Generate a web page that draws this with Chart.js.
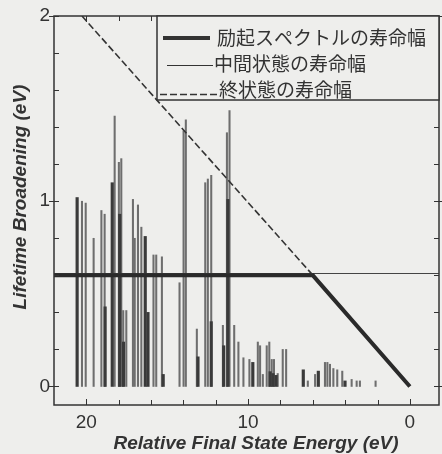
<!DOCTYPE html>
<html>
<head>
<meta charset="utf-8">
<script src="https://cdn.jsdelivr.net/npm/chart.js@4.4.1/dist/chart.umd.min.js"></script>
<style>
  html, body { margin: 0; padding: 0; background: #eeeeec; }
  #wrap { width: 442px; height: 454px; position: relative; }
</style>
</head>
<body>
<div id="wrap"><canvas id="c"></canvas></div>
<script>
// Final-state lines: energy (eV) and lifetime width (eV)
const thinEnergy = [20.27, 20.04, 19.55, 19.07, 18.87, 18.25, 17.99, 17.84, 17.72, 17.53,
  17.12, 17.01, 16.81, 16.60, 15.85, 15.68, 15.33, 14.24, 13.99, 13.85,
  13.17, 12.65, 12.49, 12.28, 11.56, 11.31, 11.15, 10.86, 10.60, 10.29,
  9.92, 9.40, 9.26, 9.09, 8.85, 8.69, 8.54, 8.40, 8.17, 7.86,
  7.65, 6.31, 5.86, 5.25, 5.10, 4.94, 4.73, 4.49, 4.18, 3.60,
  3.29, 3.09, 2.12];
const thinWidth = [1.00, 0.99, 0.80, 0.95, 0.93, 1.46, 1.21, 1.23, 0.41, 0.41,
  1.01, 0.80, 0.98, 0.86, 0.71, 0.71, 0.70, 0.56, 1.38, 1.44,
  0.31, 1.10, 1.12, 1.14, 0.33, 1.37, 1.49, 0.33, 0.24, 0.155,
  0.146, 0.24, 0.22, 0.065, 0.22, 0.24, 0.146, 0.146, 0.07, 0.20,
  0.20, 0.03, 0.065, 0.13, 0.13, 0.12, 0.097, 0.09, 0.083, 0.038,
  0.03, 0.03, 0.03];
const darkEnergy = [20.57, 18.84, 18.40, 17.94, 17.70, 16.36, 16.19, 15.25, 13.10, 12.28,
  11.51, 11.25, 9.71, 8.64, 8.46, 8.27, 6.59, 5.66, 4.01];
const darkWidth = [1.02, 0.43, 1.10, 0.93, 0.24, 0.81, 0.40, 0.065, 0.16, 0.35,
  0.22, 1.01, 0.13, 0.08, 0.07, 0.06, 0.09, 0.083, 0.03];

// Lifetime curves
const excitationE = [22, 6, 0];
const excitationW = [0.6, 0.6, 0];
const intermediateE = [22, -1.8];
const intermediateW = [0.61, 0.61];
const finalE = [20.27, 5.99];
const finalW = [2.0, 0.6];

const xTickLabels = [20, 10, 0];
const yTickLabels = [0, 1, 2];
const legendLabels = ['励起スペクトルの寿命幅', '中間状態の寿命幅', '終状態の寿命幅'];
const xTitle = 'Relative Final State Energy (eV)';
const yTitle = 'Lifetime Broadening (eV)';

const pts = (xs, ys) => xs.map((x, i) => ({ x, y: ys[i] }));

const INK = '#333333';
const BG = '#eeeeec';
const TITLE_FONT = 'italic bold 19px "Liberation Sans", Arial, sans-serif';

const framePlugin = {
  id: 'frame',
  afterDraw(chart) {
    const { ctx, chartArea: a, scales: { x, y } } = chart;
    ctx.save();
    ctx.strokeStyle = INK;
    ctx.lineWidth = 1.5;
    ctx.strokeRect(a.left, a.top, a.right - a.left, a.bottom - a.top);
    ctx.lineWidth = 1;
    // inward ticks on x (bottom and top)
    for (let v = 0; v <= 20; v += 2) {
      const px = Math.round(x.getPixelForValue(v)) + 0.5;
      const len = v % 10 === 0 ? 6 : 5;
      ctx.beginPath();
      ctx.moveTo(px, a.bottom); ctx.lineTo(px, a.bottom - len);
      ctx.moveTo(px, a.top); ctx.lineTo(px, a.top + len);
      ctx.stroke();
    }
    // inward ticks on y (left and right), majors cross the frame
    for (let k = 0; k <= 10; k++) {
      const v = k * 0.2;
      const py = Math.round(y.getPixelForValue(v)) + 0.5;
      const major = k % 5 === 0;
      ctx.beginPath();
      ctx.moveTo(a.left - (major ? 5 : 0), py); ctx.lineTo(a.left + 5, py);
      ctx.moveTo(a.right - 5, py); ctx.lineTo(a.right + (major ? 3 : 0), py);
      ctx.stroke();
    }
    // axis titles
    ctx.fillStyle = INK;
    ctx.font = TITLE_FONT;
    ctx.textAlign = 'center';
    ctx.textBaseline = 'middle';
    ctx.fillText(xTitle, 256, 444);
    ctx.save();
    ctx.translate(21, 197);
    ctx.rotate(-Math.PI / 2);
    ctx.fillText(yTitle, 0, 0);
    ctx.restore();
    // legend box in the upper right corner
    const bx = 157, by = a.top, bw = a.right - 157, bh = 100 - a.top;
    ctx.fillStyle = BG;
    ctx.fillRect(bx, by, bw, bh);
    ctx.lineWidth = 1.5;
    ctx.strokeRect(bx, by, bw, bh);
    ctx.font = '19px "Noto Sans CJK JP", sans-serif';
    ctx.fillStyle = INK;
    ctx.textBaseline = 'middle';
    ctx.textAlign = 'left';
    // entry 1: thick line
    ctx.lineWidth = 4;
    ctx.beginPath(); ctx.moveTo(163, 38); ctx.lineTo(210, 38); ctx.stroke();
    ctx.fillText(legendLabels[0], 217, 38);
    // entry 2: thin line
    ctx.lineWidth = 1.2;
    ctx.beginPath(); ctx.moveTo(167, 65.5); ctx.lineTo(213, 65.5); ctx.stroke();
    ctx.fillText(legendLabels[1], 214, 64);
    // entry 3: dashed line
    ctx.lineWidth = 1.5;
    ctx.setLineDash([7, 3]);
    ctx.beginPath(); ctx.moveTo(160, 94.5); ctx.lineTo(217, 94.5); ctx.stroke();
    ctx.setLineDash([]);
    ctx.fillText(legendLabels[2], 219, 90);
    ctx.restore();
  }
};

new Chart(document.getElementById('c'), {
  type: 'bar',
  data: {
    datasets: [
      {
        type: 'line', label: legendLabels[0], data: pts(excitationE, excitationW),
        borderColor: '#2a2a2a', borderWidth: 4, pointRadius: 0, fill: false, order: 0
      },
      {
        type: 'line', label: legendLabels[1], data: pts(intermediateE, intermediateW),
        borderColor: '#444444', borderWidth: 1.2, pointRadius: 0, fill: false, order: 1
      },
      {
        type: 'line', label: legendLabels[2], data: pts(finalE, finalW),
        borderColor: INK, borderWidth: 1.6, borderDash: [7, 3], pointRadius: 0, fill: false, order: 2
      },
      {
        label: 'dark', data: pts(darkEnergy, darkWidth),
        backgroundColor: '#3a3a3a', barThickness: 2.5, grouped: false, order: 3
      },
      {
        label: 'thin', data: pts(thinEnergy, thinWidth),
        backgroundColor: '#6e6e6e', barThickness: 1.4, grouped: false, order: 4
      }
    ]
  },
  options: {
    responsive: true,
    maintainAspectRatio: false,
    animation: false,
    layout: { padding: { left: 0, right: 3, top: 16, bottom: 0 } },
    plugins: { legend: { display: false }, tooltip: { enabled: false } },
    scales: {
      x: {
        type: 'linear', reverse: true, min: -1.8, max: 22, offset: false,
        grid: { display: false, drawTicks: false, offset: false },
        border: { display: false },
        afterBuildTicks: s => { s.ticks = xTickLabels.map(v => ({ value: v })); },
        afterFit: s => { s.height = 49; },
        ticks: { color: INK, font: { family: '"Liberation Sans", Arial, sans-serif', size: 19 }, padding: 6, maxRotation: 0 },
        title: { display: false }
      },
      y: {
        type: 'linear', min: -0.1, max: 2,
        grid: { display: false, drawTicks: false },
        border: { display: false },
        afterBuildTicks: s => { s.ticks = yTickLabels.map(v => ({ value: v })); },
        afterFit: s => { s.width = 54; },
        ticks: { color: INK, font: { family: '"Liberation Sans", Arial, sans-serif', size: 19 }, padding: 4 },
        title: { display: false }
      }
    }
  },
  plugins: [framePlugin]
});
</script>
</body>
</html>
